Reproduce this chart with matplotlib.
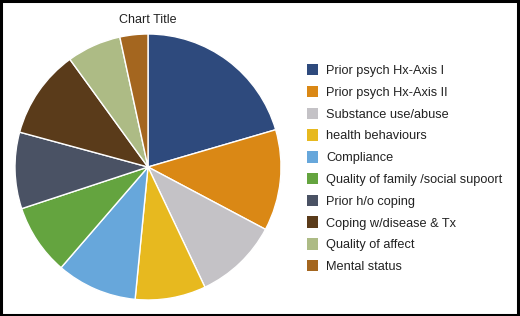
import matplotlib
matplotlib.use("Agg")
import matplotlib.pyplot as plt
from matplotlib.patches import Rectangle, Patch

plt.rcParams['font.family'] = ['Liberation Sans', 'DejaVu Sans']

# Daten (Anteile in %)
labels = ["Prior psych Hx-Axis I", "Prior psych Hx-Axis II", "Substance use/abuse",
          "health behaviours", "Compliance", "Quality of family /social supoort",
          "Prior h/o coping", "Coping w/disease & Tx", "Quality of affect", "Mental status"]
values = [20.5, 12.3, 10.2, 8.6, 9.8, 8.6, 9.3, 10.8, 6.6, 3.4]
colors = ["#2E4A7D", "#DA8815", "#C4C2C6", "#E7B91F", "#67A7DB",
          "#64A43F", "#4A5264", "#5A3B1A", "#ADBB85", "#A4661F"]

W, H = 520, 316
fig = plt.figure(figsize=(W / 100, H / 100), dpi=100)

# Kreisdiagramm
ax = fig.add_axes([15 / W, 16 / H, 266 / W, 266 / H])
ax.pie(values, colors=colors, startangle=90, counterclock=False, radius=1,
       wedgeprops=dict(edgecolor='white', linewidth=1))
ax.set_xlim(-1, 1)
ax.set_ylim(-1, 1)
ax.set_aspect('equal')
ax.axis('off')

fig.text(148 / W, 1 - 20 / H, "Chart Title", ha='center', va='center', fontsize=9, color='#222222')

# Legende
handles = [Patch(facecolor=c, edgecolor='none') for c in colors]
fig.legend(handles, labels, loc='upper left', bbox_to_anchor=(306.5 / W, 1 - 64 / H),
           frameon=False, fontsize=9.2, handlelength=0.9, handleheight=1.0,
           handletextpad=0.62, labelspacing=0.68, borderaxespad=0, borderpad=0,
           labelcolor='#222222')

# Rahmen
fig.add_artist(Rectangle((0.002, 0.004), 0.994, 0.992, transform=fig.transFigure,
                         fill=False, edgecolor='black', linewidth=2.2))

fig.savefig("out.png", dpi=100)
